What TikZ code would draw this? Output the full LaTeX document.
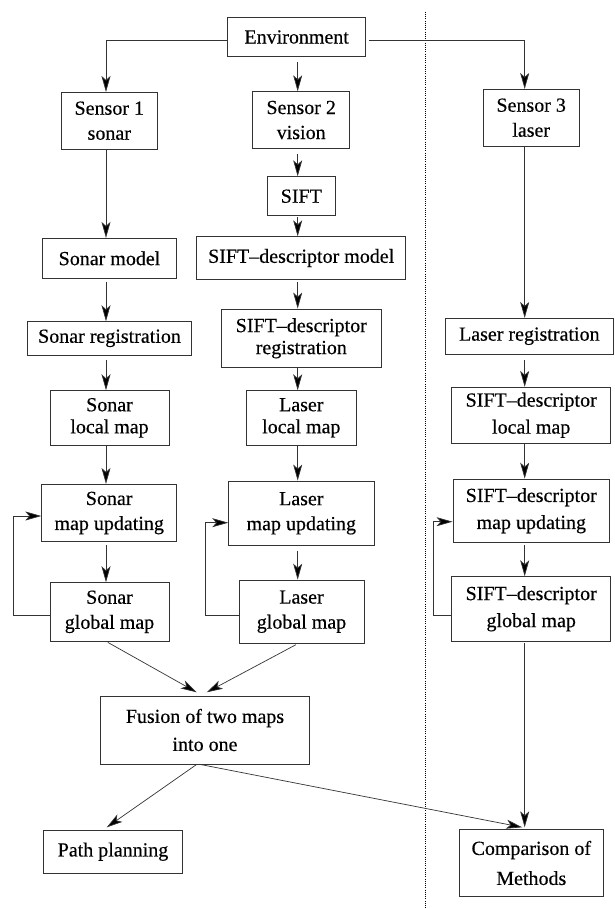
\documentclass[tikz,border=0pt]{standalone}
\usepackage{fontspec}
\setmainfont{Liberation Serif}[FakeBold=0.35]
\usetikzlibrary{arrows.meta}
\begin{document}
\begin{tikzpicture}[x=1pt,y=-1pt,
  box/.style={draw=black!80, line width=0.8pt, inner sep=0pt, align=center, font=\fontsize{20}{24}\selectfont},
  lsk/.style={font=\fontsize{20}{#1}\selectfont},
  arr/.style={draw=black!80, line width=0.7pt, -{Stealth[length=16pt,width=9pt,inset=4pt,fill=black]}},
  dotline/.style={draw=black, line width=0.6pt, dash pattern=on 0.8pt off 1.4pt}]
\useasboundingbox (0,0) rectangle (614,908);
\fill[white] (0,0) rectangle (614,908);
% column guides
\coordinate (c1) at (106,0);
\coordinate (c2) at (297.7,0);
\coordinate (c3) at (524.7,0);
% nodes
\node[box, minimum width=138pt, minimum height=39.4pt] (env) at (296.7,37) {Environment};
\node[box, lsk=25, minimum width=96.7pt, minimum height=56.7pt] (s1) at (109.3,120.7) {Sensor 1\\sonar};
\node[box, lsk=25, minimum width=97pt, minimum height=56.6pt] (s2) at (301.2,120) {Sensor 2\\vision};
\node[box, lsk=25, minimum width=96.3pt, minimum height=56.7pt] (s3) at (531.2,117.7) {Sensor 3\\laser};
\node[box, minimum width=68.7pt, minimum height=39pt] (sift) at (301.3,196.2) {SIFT};
\node[box, minimum width=134.4pt, minimum height=40pt] (sonmod) at (109.5,258.3) {Sonar model};
\node[box, minimum width=209pt, minimum height=42.6pt] (sdmod) at (301.2,258) {SIFT--descriptor model};
\node[box, minimum width=164.4pt, minimum height=33.3pt] (sonreg) at (109.5,338.3) {Sonar registration};
\node[box, lsk=22, minimum width=160.7pt, minimum height=58.7pt] (sdreg) at (301.3,338.3) {SIFT--descriptor\\registration};
\node[box, minimum width=167.3pt, minimum height=35.7pt] (lasreg) at (529.3,336.2) {Laser registration};
\node[box, lsk=22, minimum width=119pt, minimum height=54.3pt] (sonloc) at (109.5,417.8) {Sonar\\local map};
\node[box, lsk=22, minimum width=110.7pt, minimum height=54.3pt] (lasloc) at (301.3,417.8) {Laser\\local map};
\node[box, lsk=27, minimum width=159pt, minimum height=56pt] (sdloc) at (531.2,415.3) {SIFT--descriptor\\local map};
\node[box, lsk=25, minimum width=135pt, minimum height=57.4pt] (sonupd) at (109.2,513) {Sonar\\map updating};
\node[box, lsk=25, minimum width=145.3pt, minimum height=64.7pt] (lasupd) at (301.3,513.3) {Laser\\map updating};
\node[box, lsk=27, minimum width=156.7pt, minimum height=63.3pt] (sdupd) at (531.3,510.7) {SIFT--descriptor\\map updating};
\node[box, lsk=25, minimum width=119pt, minimum height=58.3pt] (songlob) at (109.5,611.8) {Sonar\\global map};
\node[box, lsk=25, minimum width=125pt, minimum height=63.3pt] (lasglob) at (301.5,611.7) {Laser\\global map};
\node[box, lsk=27, minimum width=159pt, minimum height=64.3pt] (sdglob) at (531.2,608.8) {SIFT--descriptor\\global map};
\node[box, lsk=28, minimum width=208.6pt, minimum height=68pt] (fusion) at (205,730) {Fusion of two maps\\into one};
\node[box, minimum width=139.4pt, minimum height=43.3pt] (path) at (113,851.7) {Path planning};
\node[box, lsk=30, minimum width=143.3pt, minimum height=67.4pt] (comp) at (531.3,863) {Comparison of\\Methods};
% dotted separator
\coordinate (dtop) at (425.3,11.7);
\coordinate (dbot) at (425.3,908);
\draw[dotline] (dtop) -- (dbot);
% environment to sensors
\draw[arr] ([yshift=-3pt]env.west) -| (s1.north -| c1);
\draw[arr] ([xshift=3pt,yshift=-3pt]env.east) -| (s3.north -| c3);
\draw[arr, shorten <=5pt] (env.south -| c2) -- (s2.north -| c2);
% column 1
\draw[arr] (s1.south -| c1) -- (sonmod.north -| c1);
\draw[arr, shorten <=3pt] (sonmod.south -| c1) -- (sonreg.north -| c1);
\draw[arr, shorten <=5pt] (sonreg.south -| c1) -- (sonloc.north -| c1);
\draw[arr] (sonloc.south -| c1) -- (sonupd.north -| c1);
\draw[arr, shorten <=3pt] (sonupd.south -| c1) -- (songlob.north -| c1);
% column 2
\draw[arr, shorten <=5pt] (s2.south -| c2) -- (sift.north -| c2);
\draw[arr, shorten <=1pt] (sift.south -| c2) -- (sdmod.north -| c2);
\draw[arr, shorten <=2pt] (sdmod.south -| c2) -- (sdreg.north -| c2);
\draw[arr] (sdreg.south -| c2) -- (lasloc.north -| c2);
\draw[arr] (lasloc.south -| c2) -- (lasupd.north -| c2);
\draw[arr, shorten <=5pt] (lasupd.south -| c2) -- (lasglob.north -| c2);
% column 3
\draw[arr] (s3.south -| c3) -- (lasreg.north -| c3);
\draw[arr, shorten <=6pt] (lasreg.south -| c3) -- (sdloc.north -| c3);
\draw[arr] (sdloc.south -| c3) -- (sdupd.north -| c3);
\draw[arr, shorten <=2pt] (sdupd.south -| c3) -- (sdglob.north -| c3);
% feedback loops
\coordinate (lp1) at (13.3,615);  \coordinate (lq1) at (13.3,516);
\coordinate (lp2) at (205,615);   \coordinate (lq2) at (205,522.7);
\coordinate (lp3) at (433,615);   \coordinate (lq3) at (433,521.7);
\draw[arr] (songlob.west |- lp1) -- (lp1) -- (lq1) -- (sonupd.west |- lq1);
\draw[arr] (lasglob.west |- lp2) -- (lp2) -- (lq2) -- (lasupd.west |- lq2);
\draw[arr] (sdglob.west |- lp3) -- (lp3) -- (lq3) -- (sdupd.west |- lq3);
% fusion and outputs
\draw[arr, shorten <=2pt] (songlob.south -| c1) -- ([xshift=-8.3pt,yshift=3.3pt]fusion.north);
\draw[arr, shorten <=2pt] (lasglob.south -| c2) -- ([xshift=1.7pt,yshift=3.3pt]fusion.north);
\draw[arr] ([xshift=-8.3pt]fusion.south) -- ([xshift=-6.3pt,yshift=2.3pt]path.north);
\draw[arr] ([xshift=-5pt]fusion.south) -- ([xshift=-9pt,yshift=1.6pt]comp.north);
\draw[arr, shorten <=2pt] (sdglob.south -| c3) -- ([yshift=1.6pt]comp.north -| c3);
\end{tikzpicture}
\end{document}
